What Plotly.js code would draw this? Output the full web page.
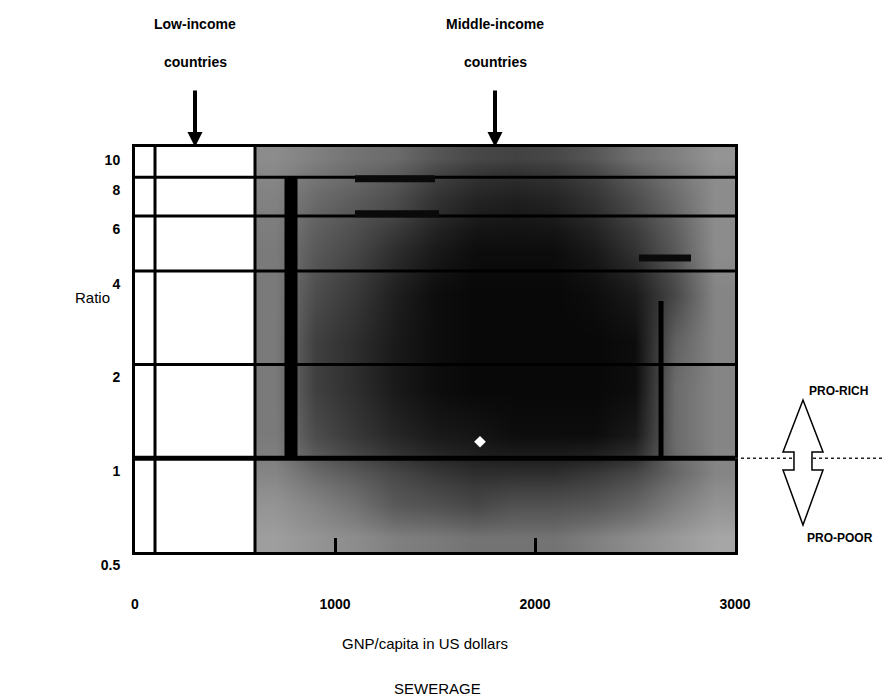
<!DOCTYPE html>
<html><head><meta charset="utf-8">
<script src="https://cdn.plot.ly/plotly-3.0.1.min.js"></script>
<style>html,body{margin:0;padding:0;background:#fff}#chart{width:890px;height:697px}</style>
</head><body><div id="chart"></div>
<script>
// ---- data ----
const gnpEdges = [600,800,1000,1200,1400,1600,1800,2000,2200,2400,2600,2800,3000];
const ratioEdges = [0.5,0.62,0.8,1,1.4,2,2.8,4,5.5,7,8.5,10];
// shading darkness (0 = white, 1 = black), rows bottom -> top
const shade = [
  [0.38,0.42,0.45,0.50,0.52,0.55,0.55,0.55,0.50,0.45,0.40,0.35],
  [0.42,0.48,0.55,0.65,0.68,0.72,0.68,0.68,0.66,0.60,0.50,0.42],
  [0.48,0.58,0.65,0.72,0.78,0.82,0.82,0.82,0.78,0.72,0.60,0.48],
  [0.52,0.70,0.78,0.85,0.90,0.92,0.95,0.95,0.95,0.90,0.58,0.48],
  [0.52,0.75,0.82,0.90,0.95,0.97,0.97,0.97,0.97,0.95,0.58,0.48],
  [0.52,0.75,0.82,0.90,0.95,0.97,0.97,0.97,0.97,0.95,0.62,0.48],
  [0.52,0.70,0.78,0.88,0.95,0.97,0.97,0.97,0.95,0.90,0.72,0.48],
  [0.52,0.65,0.72,0.82,0.90,0.95,0.95,0.95,0.90,0.80,0.65,0.45],
  [0.50,0.60,0.66,0.72,0.82,0.88,0.90,0.88,0.82,0.72,0.60,0.45],
  [0.48,0.55,0.60,0.66,0.76,0.82,0.84,0.82,0.76,0.66,0.55,0.45],
  [0.45,0.50,0.55,0.58,0.66,0.72,0.74,0.72,0.66,0.56,0.50,0.42]
];
const yTickVals = [0.5,1,2,4,6,8,10];
const yTickText = ['0.5','1','2','4','6','8','10'];
const xTickVals = [0,1000,2000,3000];
const xTickText = ['0','1000','2000','3000'];
const gridRatios = [2,4,6,8];
const parityRatio = 1;
const zoneBounds = [100,600];
const barGnp = [780,2630];
const barTop = [8,3.2];
const dashGnpStart = [1100,1100,2520];
const dashGnpEnd = [1500,1520,2780];
const dashRatio = [7.9,6.1,4.4];
const markGnp = [1725];
const markRatio = [1.13];
const groupGnp = [300,1800];
const groupLine1 = ['Low-income','Middle-income'];
const groupLine2 = ['countries','countries'];

// ---- styles ----
const FONT = 'Liberation Sans, Arial, sans-serif';
const barWidths = [13,5];
const yMin = 0.5, yMax = 10;
const logMin = Math.log10(yMin), logMax = Math.log10(yMax);
const parityPaper = (Math.log10(parityRatio) - logMin) / (logMax - logMin);

function segs(xs0, xs1, ys0, ys1){
  const x=[], y=[];
  for(let i=0;i<xs0.length;i++){ x.push(xs0[i], xs1[i], null); y.push(ys0[i], ys1[i], null); }
  return {x, y};
}

const traces = [];
traces.push({
  type:'heatmap', x:gnpEdges, y:ratioEdges, z:shade,
  colorscale:[[0,'#ffffff'],[1,'#000000']], zmin:0, zmax:1,
  zsmooth:'best', showscale:false, hoverinfo:'skip'
});
const g = segs(gridRatios.map(()=>0), gridRatios.map(()=>3000), gridRatios, gridRatios);
traces.push({type:'scatter', mode:'lines', x:g.x, y:g.y, line:{color:'#000', width:3}, hoverinfo:'skip', showlegend:false});
traces.push({type:'scatter', mode:'lines', x:[0,3000], y:[parityRatio,parityRatio], line:{color:'#000', width:5}, hoverinfo:'skip', showlegend:false});
barGnp.forEach((bx,i)=>{
  traces.push({type:'scatter', mode:'lines', x:[bx,bx], y:[parityRatio, barTop[i]], line:{color:'#000', width:barWidths[i]}, hoverinfo:'skip', showlegend:false});
});
const d = segs(dashGnpStart, dashGnpEnd, dashRatio, dashRatio);
traces.push({type:'scatter', mode:'lines', x:d.x, y:d.y, line:{color:'#0a0a0a', width:7}, hoverinfo:'skip', showlegend:false});
traces.push({type:'scatter', mode:'markers', x:markGnp, y:markRatio, marker:{symbol:'diamond', size:9, color:'#fff'}, hoverinfo:'skip', showlegend:false});

const px2x = px => (px-135)/600;
const py2y = py => (552-py)/405;

function txt(px, py, text, size, bold){
  return {x:px2x(px), y:py2y(py), xref:'paper', yref:'paper', xanchor:'center', yanchor:'middle', text, showarrow:false,
    font:{family:FONT, size, color:'#000', weight: bold ? 'bold' : 'normal'}};
}

const annotations = [];
groupGnp.forEach((gx,i)=>{
  annotations.push({x:gx, xref:'x', y:py2y(24), yref:'paper', xanchor:'center', yanchor:'middle', text:groupLine1[i], showarrow:false, font:{family:FONT, size:14, color:'#000', weight:'bold'}});
  annotations.push({x:gx, xref:'x', y:py2y(62), yref:'paper', xanchor:'center', yanchor:'middle', text:groupLine2[i], showarrow:false, font:{family:FONT, size:14, color:'#000', weight:'bold'}});
  annotations.push({x:gx, xref:'x', y:1, yref:'paper', text:'', showarrow:true, ax:0, ay:-58, arrowhead:2, arrowsize:0.75, arrowwidth:4, arrowcolor:'#000', standoff:0});
});
annotations.push(txt(92, 297, 'Ratio', 15, false));
annotations.push(txt(425, 643, 'GNP/capita in US dollars', 15, false));
annotations.push(txt(437, 688, 'SEWERAGE', 15, false));
annotations.push(txt(838, 391, 'PRO-RICH', 12, true));
annotations.push(txt(840, 538, 'PRO-POOR', 12, true));

// hollow double arrow (pixel outline converted to paper)
const arrowPts = [[803,400],[823,452],[812,452],[812,470],[823,470],[803,525],[783,470],[794,470],[794,452],[783,452]];
const arrowPath = 'M' + arrowPts.map(p=>px2x(p[0]).toFixed(4)+','+py2y(p[1]).toFixed(4)).join(' L') + ' Z';

const shapes = [];
zoneBounds.forEach(zx=>{
  shapes.push({type:'line', xref:'x', yref:'paper', x0:zx, x1:zx, y0:0, y1:1, line:{color:'#000', width:3}, layer:'above'});
});
shapes.push({type:'line', xref:'paper', yref:'paper', x0:1, x1:px2x(882), y0:parityPaper, y1:parityPaper, line:{color:'#222', width:1.5, dash:'dot'}});
shapes.push({type:'path', xref:'paper', yref:'paper', path:arrowPath, fillcolor:'#fff', line:{color:'#000', width:1.5}});

const layout = {
  width:890, height:697,
  margin:{l:135, r:155, t:147, b:145},
  paper_bgcolor:'#fff', plot_bgcolor:'#fff',
  showlegend:false,
  xaxis:{range:[0,3000], tickvals:xTickVals, ticktext:xTickText, ticks:'inside', ticklen:14, tickwidth:3, tickcolor:'#000',
    showline:true, linewidth:3, linecolor:'#000', mirror:true, showgrid:false, zeroline:false,
    tickfont:{family:FONT, size:14, color:'#000', weight:'bold'}, ticklabelstandoff:37},
  yaxis:{type:'log', range:[logMin, logMax], tickvals:yTickVals, ticktext:yTickText, ticks:'',
    showline:true, linewidth:3, linecolor:'#000', mirror:true, showgrid:false, zeroline:false,
    tickfont:{family:FONT, size:14, color:'#000', weight:'bold'}, ticklabelstandoff:9, ticklabelshift:13},
  annotations, shapes
};
Plotly.newPlot('chart', traces, layout, {displayModeBar:false, staticPlot:true});
</script>
</body></html>
